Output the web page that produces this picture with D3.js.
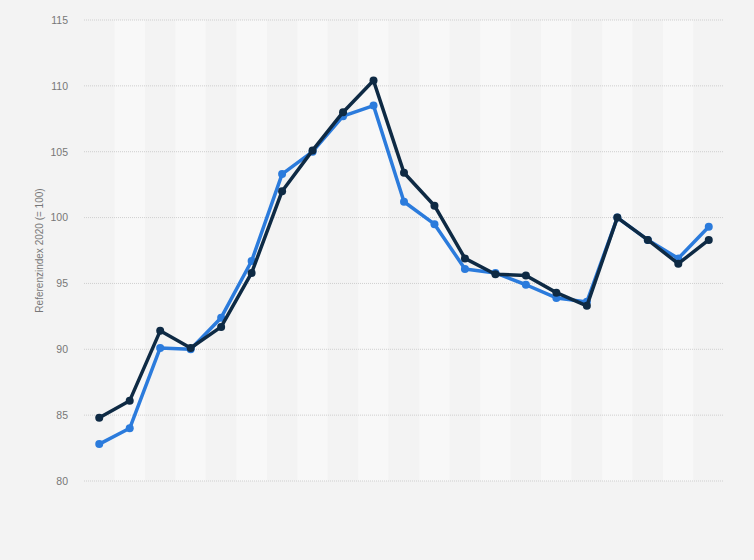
<!DOCTYPE html>
<html>
<head>
<meta charset="utf-8">
<script src="https://cdn.jsdelivr.net/npm/d3@7"></script>
<style>
  html, body { margin: 0; padding: 0; background: #f3f3f3; }
  svg { display: block; font-family: "Liberation Sans", Arial, sans-serif; }
</style>
</head>
<body>
<svg id="chart" width="754" height="560"></svg>
<script>
// ---- data ----
const categories = ["1","2","3","4","5","6","7","8","9","10","11","12","13","14","15","16","17","18","19","20","21"];
const seriesBlue = [82.8, 84.0, 90.1, 90.0, 92.4, 96.7, 103.3, 105.0, 107.7, 108.5, 101.2, 99.5, 96.1, 95.8, 94.9, 93.9, 93.6, 100.0, 98.3, 96.9, 99.3];
const seriesDark = [84.8, 86.1, 91.4, 90.1, 91.7, 95.8, 102.0, 105.1, 108.0, 110.4, 103.4, 100.9, 96.9, 95.7, 95.6, 94.3, 93.3, 100.0, 98.3, 96.5, 98.3];
const yTicks = [80, 85, 90, 95, 100, 105, 110, 115];
const yTitle = "Referenzindex 2020 (= 100)";

// ---- layout ----
const svg = d3.select("#chart");
const W = 754, H = 560;
const m = { left: 84, right: 30, top: 20, bottom: 79 };
const x = d3.scaleBand().domain(categories).range([m.left, W - m.right]).padding(0);
const y = d3.scaleLinear().domain([80, 115]).range([H - m.bottom, m.top]);

svg.append("rect").attr("width", W).attr("height", H).attr("fill", "#f3f3f3");

// alternating stripes
svg.append("g").selectAll("rect").data(categories).join("rect")
  .attr("x", d => x(d))
  .attr("y", y(115))
  .attr("width", x.bandwidth())
  .attr("height", y(80) - y(115))
  .attr("fill", (d, i) => i % 2 === 1 ? "#f8f8f8" : "#f3f3f3");

// gridlines
svg.append("g").selectAll("line").data(yTicks).join("line")
  .attr("x1", m.left).attr("x2", W - m.right)
  .attr("y1", d => y(d)).attr("y2", d => y(d))
  .attr("stroke", "#cfcfcf").attr("stroke-width", 1)
  .attr("stroke-dasharray", "1,1");

// y axis
const yAxis = d3.axisLeft(y).tickValues(yTicks).tickSize(0).tickPadding(16);
const gy = svg.append("g").attr("transform", `translate(${m.left},0)`).call(yAxis);
gy.select(".domain").remove();
gy.selectAll("text").attr("fill", "#777").style("font-size", "10.5px");

svg.append("text")
  .attr("transform", `translate(43,${(y(80) + y(115)) / 2}) rotate(-90)`)
  .attr("text-anchor", "middle")
  .attr("fill", "#777")
  .style("font-size", "10px")
  .text(yTitle);

// lines
const cx = d => x(d) + x.bandwidth() / 2;
function drawSeries(vals, color) {
  const pts = categories.map((c, i) => [cx(c), y(vals[i])]);
  svg.append("path").datum(pts)
    .attr("d", d3.line())
    .attr("fill", "none").attr("stroke", color)
    .attr("stroke-width", 3.5).attr("stroke-linejoin", "round");
  svg.append("g").selectAll("circle").data(pts).join("circle")
    .attr("cx", d => d[0]).attr("cy", d => d[1]).attr("r", 4)
    .attr("fill", color);
}
drawSeries(seriesBlue, "#2b7bdc");
drawSeries(seriesDark, "#0e2a44");
</script>
</body>
</html>
